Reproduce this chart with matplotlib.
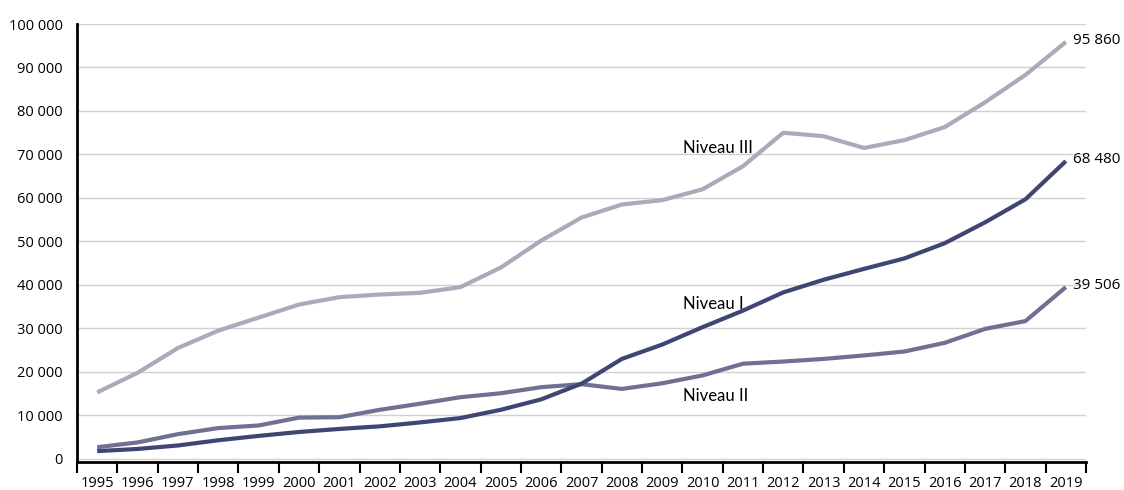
import matplotlib
matplotlib.use("Agg")
import matplotlib.pyplot as plt
import numpy as np

years = list(range(1995, 2020))
niveau_iii = [15300, 19800, 25500, 29500, 32500, 35500, 37200, 37800, 38200, 39500,
              44000, 50200, 55500, 58500, 59500, 62000, 67300, 75000, 74200, 71500,
              73300, 76300, 82000, 88300, 95860]
niveau_i = [1800, 2300, 3100, 4300, 5300, 6200, 6900, 7500, 8400, 9400,
            11300, 13700, 17300, 23000, 26300, 30300, 34100, 38300, 41200, 43700,
            46100, 49600, 54400, 59700, 68480]
niveau_ii = [2700, 3800, 5700, 7100, 7700, 9500, 9600, 11300, 12700, 14200,
             15100, 16500, 17200, 16100, 17400, 19200, 21900, 22400, 23000, 23800,
             24700, 26700, 29900, 31700, 39506]
yticks = list(range(0, 100001, 10000))

plt.rcParams['font.family'] = ['Open Sans', 'DejaVu Sans']

def fmt(v):
    return f"{v:,}".replace(",", " ")

fig = plt.figure(figsize=(11.24, 4.9), dpi=100)
ax = fig.add_axes([77/1124, 1-462/490, (1086-77)/1124, (462-24)/490])

c3, c1, c2 = "#a9abba", "#3f4673", "#6f7192"
ax.plot(years, niveau_iii, color=c3, lw=3, solid_capstyle='butt', zorder=3)
ax.plot(years, niveau_ii, color=c2, lw=3, solid_capstyle='butt', zorder=3)
ax.plot(years, niveau_i, color=c1, lw=3, solid_capstyle='butt', zorder=4)

ax.set_xlim(1994.5, 2019.5)
ax.set_ylim(-700, 100000)
ax.set_yticks(yticks)
ax.set_yticklabels([fmt(v) for v in yticks], fontsize=10.5)
ax.set_xticks(np.arange(1994.5, 2020, 1))
ax.set_xticklabels([])
ax.set_xticks(years, minor=True)
ax.set_xticklabels([str(y) for y in years], minor=True, fontsize=10.5)
ax.tick_params(axis='x', which='major', direction='out', length=8, width=1.5, color='black')
ax.tick_params(axis='x', which='minor', length=0, pad=10)
ax.tick_params(axis='y', length=0, pad=10)
ax.grid(axis='y', color='#d0d0d0', lw=1)
ax.set_axisbelow(True)
for s in ['top', 'right']:
    ax.spines[s].set_visible(False)
ax.spines['left'].set_linewidth(2)
ax.spines['bottom'].set_linewidth(2)

afont = dict(fontsize=12, family=['Lato', 'DejaVu Sans'], ha='left', va='center')
ax.text(2009.52, 71400, "Niveau III", **afont)
ax.text(2009.52, 35700, "Niveau I", **afont)
ax.text(2009.52, 14500, "Niveau II", **afont)
for s in (niveau_iii, niveau_i, niveau_ii):
    ax.text(2019.18, s[-1] + 300, fmt(s[-1]), fontsize=11, ha='left', va='center', clip_on=False)

fig.savefig("out.png", dpi=100)
